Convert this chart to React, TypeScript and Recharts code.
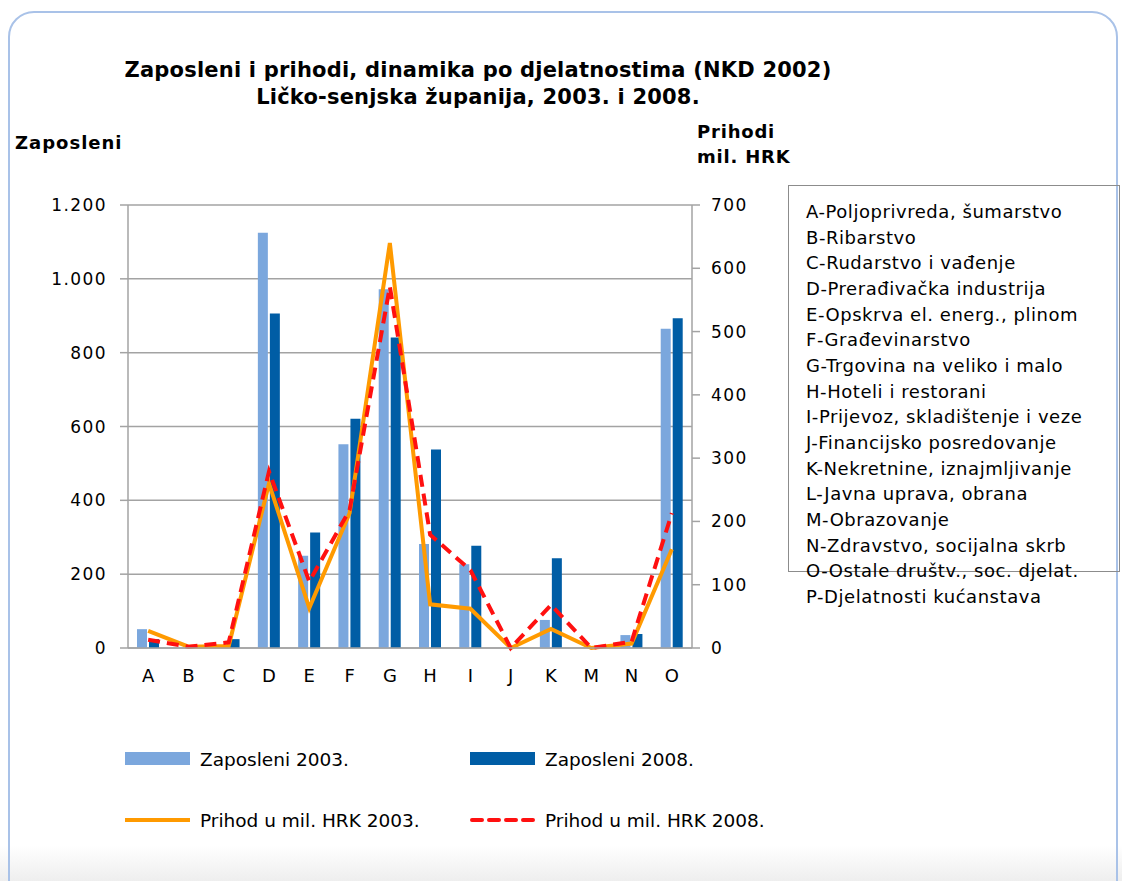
import { Bar, CartesianGrid, ComposedChart, Line, XAxis, YAxis } from "recharts";

const categories = ["A", "B", "C", "D", "E", "F", "G", "H", "I", "J", "K", "M", "N", "O"];
const zaposleni2003 = [51, 0, 0, 1125, 250, 552, 972, 282, 227, 0, 76, 0, 35, 865];
const zaposleni2008 = [24, 0, 24, 906, 313, 621, 841, 538, 277, 0, 243, 0, 38, 893];
const prihod2003 = [27, 2, 3, 260, 63, 213, 640, 69, 62, 0, 30, 0, 7, 156];
const prihod2008 = [13, 2, 9, 279, 105, 218, 571, 179, 123, 0, 68, 0, 10, 213];

const leftTicks = [0, 200, 400, 600, 800, 1000, 1200];
const rightTicks = [0, 100, 200, 300, 400, 500, 600, 700];
const boundaryTicks = [0, 1, 2, 3, 4, 5, 6, 7, 8, 9, 10, 11, 12, 13, 14];

const djelatnosti = [
  "A-Poljoprivreda, šumarstvo",
  "B-Ribarstvo",
  "C-Rudarstvo i vađenje",
  "D-Prerađivačka industrija",
  "E-Opskrva el. energ., plinom",
  "F-Građevinarstvo",
  "G-Trgovina na veliko i malo",
  "H-Hoteli i restorani",
  "I-Prijevoz, skladištenje i veze",
  "J-Financijsko posredovanje",
  "K-Nekretnine, iznajmljivanje",
  "L-Javna uprava, obrana",
  "M-Obrazovanje",
  "N-Zdravstvo, socijalna skrb",
  "O-Ostale društv., soc. djelat.",
  "P-Djelatnosti kućanstava",
];

const LIGHT = "#7ba7dd";
const DARK = "#005da5";
const ORANGE = "#ff9a00";
const RED = "#ff1010";
const GREY = "#a3a3a3";

const data = categories.map((c, i) => ({
  name: c,
  z2003: zaposleni2003[i],
  z2008: zaposleni2008[i],
  p2003: prihod2003[i],
  p2008: prihod2008[i],
}));

const fmt = (v: number) => (v >= 1000 ? `${Math.floor(v / 1000)}.${String(v % 1000).padStart(3, "0")}` : `${v}`);

const font = "'DejaVu Sans', Verdana, sans-serif";

const legendItems = [
  { label: "Zaposleni 2003.", kind: "bar", color: LIGHT, x: 125, y: 759 },
  { label: "Zaposleni 2008.", kind: "bar", color: DARK, x: 470, y: 759 },
  { label: "Prihod u mil. HRK 2003.", kind: "line", color: ORANGE, x: 125, y: 820 },
  { label: "Prihod u mil. HRK 2008.", kind: "dash", color: RED, x: 470, y: 820 },
];

export default function App() {
  return (
    <div
      style={{
        position: "absolute",
        left: 0,
        top: 0,
        width: 1122,
        height: 881,
        overflow: "hidden",
        background: "linear-gradient(to bottom, #fff 0%, #fff 96%, #eeeeee 100%)",
        fontFamily: font,
        color: "#000",
      }}
    >
      <div
        style={{
          position: "absolute",
          left: 8,
          top: 11,
          width: 1110,
          height: 900,
          borderRadius: 26,
          border: "2px solid #a9c2e8",
          boxSizing: "border-box",
        }}
      />
      <div
        style={{
          position: "absolute",
          left: 78,
          width: 800,
          top: 57,
          textAlign: "center",
          fontWeight: "bold",
          fontSize: 21,
          letterSpacing: 0.2,
          lineHeight: "27px",
        }}
      >
        Zaposleni i prihodi, dinamika po djelatnostima (NKD 2002)
        <br />
        Ličko-senjska županija, 2003. i 2008.
      </div>
      <div style={{ position: "absolute", left: 15, top: 132, fontWeight: "bold", fontSize: 18, letterSpacing: 1 }}>
        Zaposleni
      </div>
      <div
        style={{
          position: "absolute",
          left: 697,
          top: 119,
          fontWeight: "bold",
          fontSize: 18,
          letterSpacing: 0.8,
          lineHeight: "25px",
        }}
      >
        Prihodi
        <br />
        mil. HRK
      </div>

      <div style={{ position: "absolute", left: 0, top: 0 }}>
        <ComposedChart
          width={800}
          height={700}
          data={data}
          margin={{ top: 205, right: 48, bottom: 22, left: 0 }}
          barSize={10}
          barGap={2}
        >
          <CartesianGrid yAxisId="left" xAxisId="cat" vertical={false} stroke={GREY} strokeWidth={1.5} />
          <XAxis
            xAxisId="b"
            type="number"
            domain={[0, 14]}
            ticks={boundaryTicks}
            allowDataOverflow
            height={0}
            axisLine={false}
            tick={false}
            tickLine={{ stroke: GREY, strokeWidth: 1.5 }}
            tickSize={7}
          />
          <XAxis
            xAxisId="cat"
            dataKey="name"
            height={30}
            axisLine={{ stroke: GREY, strokeWidth: 1.5 }}
            tickLine={false}
            tickSize={0}
            tickMargin={21}
            tick={{ fill: "#000", fontSize: 18, fontFamily: font }}
            interval={0}
          />
          <YAxis
            yAxisId="left"
            width={128}
            domain={[0, 1200]}
            ticks={leftTicks}
            tickFormatter={fmt}
            axisLine={{ stroke: GREY, strokeWidth: 1.5 }}
            tickLine={{ stroke: GREY, strokeWidth: 1.5 }}
            tickSize={8}
            tickMargin={13}
            tick={{ fill: "#000", fontSize: 17, fontFamily: font, letterSpacing: 1.4 }}
          />
          <YAxis
            yAxisId="right"
            orientation="right"
            width={60}
            domain={[0, 700]}
            ticks={rightTicks}
            axisLine={{ stroke: GREY, strokeWidth: 1.5 }}
            tickLine={{ stroke: GREY, strokeWidth: 1.5 }}
            tickSize={8}
            tickMargin={11}
            tick={{ fill: "#000", fontSize: 17, fontFamily: font, textAnchor: "start", letterSpacing: 1.4 }}
          />
          <Bar xAxisId="cat" yAxisId="left" dataKey="z2003" fill={LIGHT} isAnimationActive={false} />
          <Bar xAxisId="cat" yAxisId="left" dataKey="z2008" fill={DARK} isAnimationActive={false} />
          <Line
            xAxisId="cat"
            yAxisId="right"
            type="linear"
            dataKey="p2003"
            stroke={ORANGE}
            strokeWidth={4}
            dot={false}
            activeDot={false}
            isAnimationActive={false}
          />
          <Line
            xAxisId="cat"
            yAxisId="right"
            type="linear"
            dataKey="p2008"
            stroke={RED}
            strokeWidth={4}
            strokeDasharray="12 7"
            dot={false}
            activeDot={false}
            isAnimationActive={false}
          />
        </ComposedChart>
      </div>

      {legendItems.map((it) => (
        <div
          key={it.label}
          style={{ position: "absolute", left: it.x, top: it.y - 12, height: 24, display: "flex", alignItems: "center" }}
        >
          <svg width={66} height={24} style={{ marginRight: 9 }}>
            {it.kind === "bar" && <rect x={0} y={5} width={65} height={13} fill={it.color} />}
            {it.kind === "line" && <line x1={0} x2={65} y1={12} y2={12} stroke={it.color} strokeWidth={4} />}
            {it.kind === "dash" && (
              <line
                x1={2}
                x2={65}
                y1={12}
                y2={12}
                stroke={it.color}
                strokeWidth={4}
                strokeDasharray="10 7"
                strokeLinecap="round"
              />
            )}
          </svg>
          <span style={{ fontSize: 18.5 }}>{it.label}</span>
        </div>
      ))}

      <div
        style={{
          position: "absolute",
          left: 788,
          top: 185,
          width: 332,
          height: 387,
          border: "1.5px solid #8c8c8c",
          boxSizing: "border-box",
        }}
      />
      <div
        style={{
          position: "absolute",
          left: 806,
          top: 199,
          fontSize: 18,
          letterSpacing: 0.55,
          lineHeight: "25.67px",
          whiteSpace: "nowrap",
        }}
      >
        {djelatnosti.map((d) => (
          <div key={d}>{d}</div>
        ))}
      </div>
    </div>
  );
}
